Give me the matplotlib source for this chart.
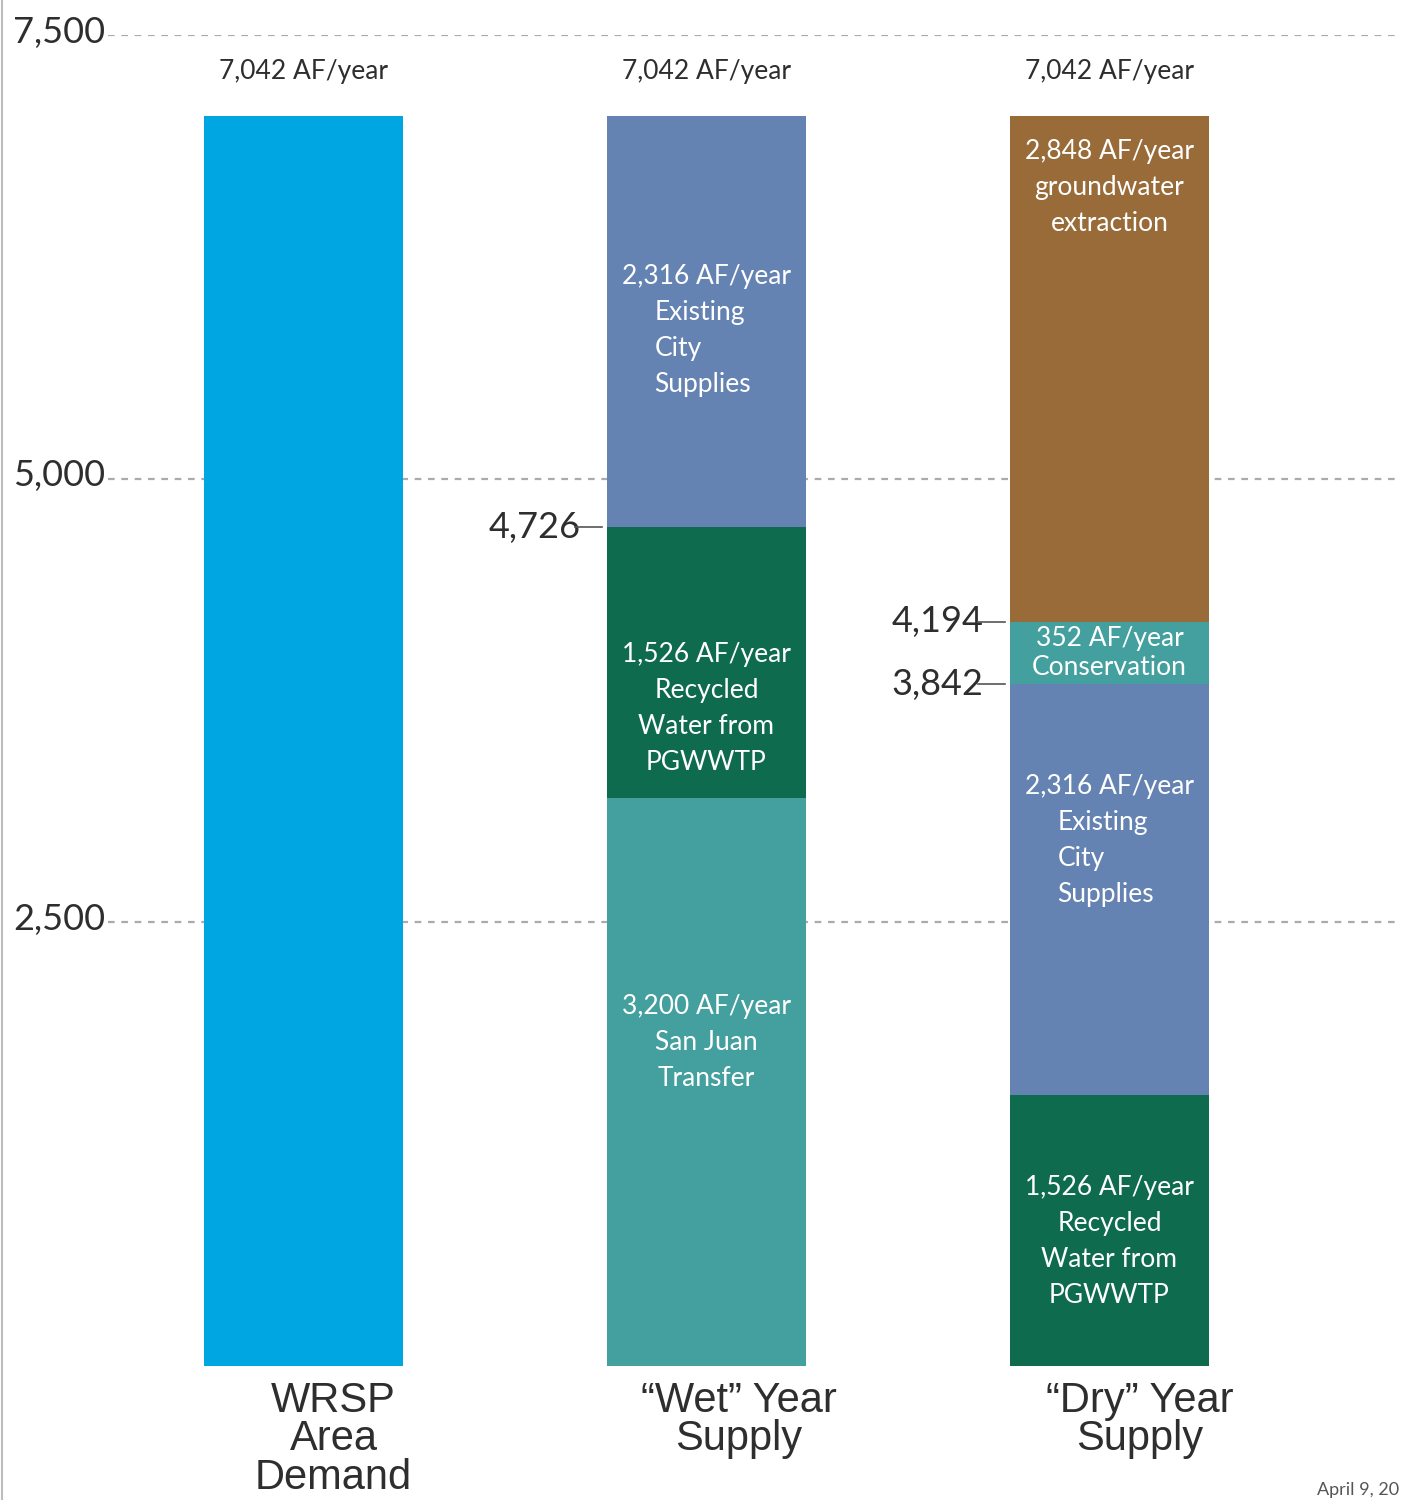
import matplotlib
matplotlib.use("Agg")
import matplotlib.pyplot as plt
import matplotlib.transforms as mtransforms
from matplotlib.lines import Line2D

# ---- data ----
categories = ["WRSP\nArea\nDemand", "\u201cWet\u201d Year\nSupply", "\u201cDry\u201d Year\nSupply"]
total_labels = ["7,042 AF/year", "7,042 AF/year", "7,042 AF/year"]

demand_values = [7042]
demand_colors = ["#00A6E2"]

wet_values = [3200, 1526, 2316]
wet_colors = ["#44A09E", "#0F6B4E", "#6583B2"]
wet_labels = [
    ["3,200 AF/year", "San Juan", "Transfer"],
    ["1,526 AF/year", "Recycled", "Water from", "PGWWTP"],
    ["2,316 AF/year", "Existing", "City", "Supplies"],
]

dry_values = [1526, 2316, 352, 2848]
dry_colors = ["#0F6B4E", "#6583B2", "#44A09E", "#996B39"]
dry_labels = [
    ["1,526 AF/year", "Recycled", "Water from", "PGWWTP"],
    ["2,316 AF/year", "Existing", "City", "Supplies"],
    ["352 AF/year", "Conservation"],
    ["2,848 AF/year", "groundwater", "extraction"],
]

wet_marks = [4726]
dry_marks = [4194, 3842]

yticks = [2500, 5000, 7500]
ytick_labels = ["2,500", "5,000", "7,500"]

# where each label block sits inside its segment (fraction of segment height)
wet_label_pos = [0.57, 0.33, 0.48]
dry_label_pos = [0.46, 0.62, 0.5, 0.86]
# lines after this index are left-aligned as a block (None = all centered)
wet_left_from = [None, None, 1]
dry_left_from = [None, 1, None, None]

TEXT = "#2E2E2E"
NUM_FONT = ["Lato", "DejaVu Sans"]
CAT_FONT = ["Liberation Sans", "DejaVu Sans"]


def stack_label(ax, x, y, lines, left_from=None, step=36, size=19):
    n = len(lines)
    for i, line in enumerate(lines):
        dy = ((n - 1) / 2 - i) * step
        if left_from is not None and i >= left_from:
            ax.annotate(line, (x, y), xytext=(-52, dy), textcoords="offset pixels",
                        ha="left", va="center", color="white", fontsize=size,
                        family=NUM_FONT, zorder=5)
        else:
            ax.annotate(line, (x, y), xytext=(0, dy), textcoords="offset pixels",
                        ha="center", va="center", color="white", fontsize=size,
                        family=NUM_FONT, zorder=5)


def draw_stack(ax, x, values, colors, labels, pos, left_from, width):
    bottom = 0
    for i, v in enumerate(values):
        ax.bar(x, v, width=width, bottom=bottom, color=colors[i], linewidth=0, zorder=3)
        if labels is not None:
            step = 29 if len(labels[i]) == 2 else 36
            stack_label(ax, x, bottom + v * pos[i], labels[i], left_from[i], step=step)
        bottom += v
    return bottom


def main():
    fig = plt.figure(figsize=(14.02, 15), dpi=100)
    ax = fig.add_axes([108 / 1402, 1 - 1366 / 1500, 1292 / 1402, 1331 / 1500])

    width = 0.494
    xs = [0, 1, 2]

    totals = []
    totals.append(draw_stack(ax, xs[0], demand_values, demand_colors, None, None, None, width))
    totals.append(draw_stack(ax, xs[1], wet_values, wet_colors, wet_labels, wet_label_pos, wet_left_from, width))
    totals.append(draw_stack(ax, xs[2], dry_values, dry_colors, dry_labels, dry_label_pos, dry_left_from, width))

    ax.set_xlim(-0.485, 2.721)
    ax.set_ylim(0, 7500)

    # dashed gridlines and tick labels
    for t, lab in zip(yticks, ytick_labels):
        ax.axhline(t, color="#A8ACB0", lw=1.6, ls=(0, (3, 3)), zorder=1)
        ax.annotate(lab, (0, t), xycoords=("axes fraction", "data"), xytext=(-3, 3),
                    textcoords="offset pixels", ha="right", va="center",
                    fontsize=26, color=TEXT, family=NUM_FONT)

    # totals above bars
    for x, tot, lab in zip(xs, totals, total_labels):
        ax.annotate(lab, (x, tot), xytext=(0, 45), textcoords="offset pixels",
                    ha="center", va="center", fontsize=19, color=TEXT, family=NUM_FONT)

    # cumulative markers with leader lines
    for x, marks in ((xs[1], wet_marks), (xs[2], dry_marks)):
        left = x - width / 2
        for m in marks:
            ax.plot([left - 0.08, left - 0.012], [m, m], color="#555555", lw=1.2, zorder=4)
            ax.annotate(f"{m:,}", (left - 0.065, m), xytext=(0, 0), textcoords="offset pixels",
                        ha="right", va="center", fontsize=26, color=TEXT, family=NUM_FONT)

    # category labels
    blend = mtransforms.blended_transform_factory(ax.transData, ax.transAxes)
    cat_offsets = [0.075, 0.08, 0.075]
    for x, cat, off in zip(xs, categories, cat_offsets):
        ax.text(x + off, -0.011, cat, transform=blend, ha="center", va="top",
                fontsize=30, color=TEXT, family=CAT_FONT, linespacing=0.95)

    for s in ax.spines.values():
        s.set_visible(False)
    ax.set_xticks([])
    ax.set_yticks([])

    # page border on the left and date stamp
    fig.add_artist(Line2D([0.0012, 0.0012], [0, 1], color="#BDBDBD", lw=1.5))
    fig.text(1317 / 1402, 2 / 1500, "April 9, 20", ha="left", va="bottom",
             fontsize=13, color="#555555", family=NUM_FONT)

    fig.savefig("out.png", dpi=100, facecolor="white")


if __name__ == "__main__":
    main()
